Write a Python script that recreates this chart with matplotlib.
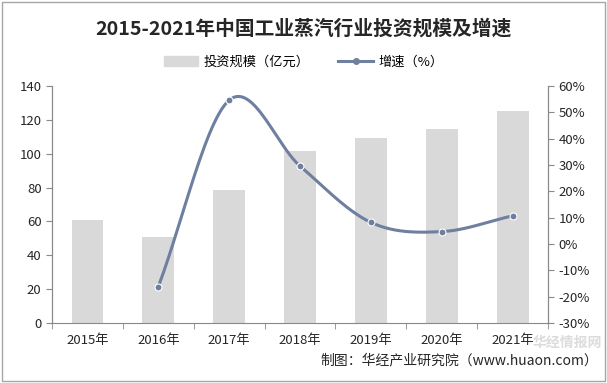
import matplotlib
matplotlib.use("Agg")
import matplotlib.pyplot as plt
import numpy as np
from matplotlib.patches import Rectangle
from matplotlib.lines import Line2D
from matplotlib.ticker import FuncFormatter

plt.rcParams['font.family'] = ['Noto Sans CJK SC', 'DejaVu Sans']

years = ['2015年', '2016年', '2017年', '2018年', '2019年', '2020年', '2021年']
invest = [60.8, 50.8, 78.5, 101.5, 109.3, 114.5, 125.5]   # 亿元
growth_years = years[1:]
growth = [-16.2, 54.6, 29.6, 8.2, 4.7, 10.7]               # %

bar_color = '#d9d9d9'
line_color = '#6f7fa0'
axis_color = '#898989'


def catmull_rom(x, y, n=30):
    # smooth curve through points, like excel's "smoothed line"
    x = np.asarray(x, float)
    y = np.asarray(y, float)
    px = np.concatenate([[2 * x[0] - x[1]], x, [2 * x[-1] - x[-2]]])
    py = np.concatenate([[2 * y[0] - y[1]], y, [2 * y[-1] - y[-2]]])
    xs, ys = [], []
    t = np.linspace(0, 1, n)
    for i in range(1, len(px) - 2):
        for p, out in ((px, xs), (py, ys)):
            p0, p1, p2, p3 = p[i - 1], p[i], p[i + 1], p[i + 2]
            out.extend(0.5 * ((2 * p1) + (-p0 + p2) * t
                              + (2 * p0 - 5 * p1 + 4 * p2 - p3) * t ** 2
                              + (-p0 + 3 * p1 - 3 * p2 + p3) * t ** 3))
    return np.array(xs), np.array(ys)


fig = plt.figure(figsize=(6.07, 3.83), dpi=100)
ax = fig.add_axes([0.0857, 0.1567, 0.8171, 0.6188])
ax2 = ax.twinx()

x = np.arange(len(years))
ax.bar(x, invest, width=0.45, color=bar_color, zorder=1)
ax.set_ylim(0, 140)
ax.set_yticks(range(0, 141, 20))
ax.set_xlim(-0.5, len(years) - 0.5)
ax.set_xticks(x)
ax.set_xticklabels(years)
ax.set_xticks(np.arange(-0.5, len(years), 1), minor=True)
ax.tick_params(axis='x', which='major', length=0, pad=8)
ax.tick_params(axis='x', which='minor', length=4, color=axis_color)
ax.tick_params(axis='y', length=4, color=axis_color)

gx = x[1:]
sx, sy = catmull_rom(gx, growth)
ax2.plot(sx, sy, color=line_color, lw=2.2, zorder=3)
ax2.plot(gx, growth, 'o', color=line_color, ms=5, markeredgecolor='white',
         markeredgewidth=0.8, zorder=4)
ax2.set_ylim(-30, 60)
ax2.set_yticks(range(-30, 61, 10))
ax2.yaxis.set_major_formatter(FuncFormatter(lambda v, p: f'{int(v)}%'))
ax2.tick_params(axis='y', length=4, color=axis_color)

for a in (ax, ax2):
    a.spines['top'].set_visible(False)
    for s in ('left', 'right', 'bottom'):
        a.spines[s].set_color(axis_color)
    a.tick_params(labelsize=9.5, labelcolor='#262626')
ax2.spines['bottom'].set_visible(False)

fig.text(0.5, 0.925, '2015-2021年中国工业蒸汽行业投资规模及增速', ha='center', va='center',
         fontsize=14.2, fontweight='bold', color='#262626')

# legend
handles = [Rectangle((0, 0), 1, 1, color=bar_color),
           Line2D([], [], color=line_color, lw=2.2, marker='o', ms=4)]
fig.legend(handles, ['投资规模（亿元）', '增速（%）'], loc='center', ncol=2,
           bbox_to_anchor=(0.5, 0.838), frameon=False, fontsize=9.5,
           handlelength=2.6, columnspacing=2.2, handletextpad=0.4)

# watermark + source
fig.text(0.935, 0.105, '华经情报网', ha='center', va='center', fontsize=10,
         fontweight='bold', color='#dcdcdc', zorder=0)
fig.text(0.985, 0.058, '制图：华经产业研究院（www.huaon.com）', ha='right', va='center',
         fontsize=10, color='#262626')

fig.patches.append(Rectangle((0.003, 0.004), 0.994, 0.992, transform=fig.transFigure,
                             fill=False, edgecolor='#a6a6a6', lw=1))

fig.savefig('out.png', dpi=100)
